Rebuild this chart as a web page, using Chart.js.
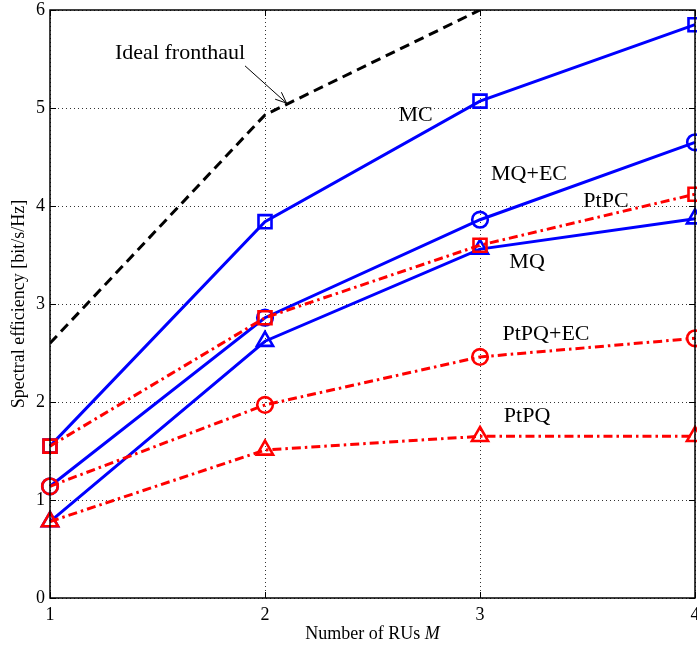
<!DOCTYPE html>
<html>
<head>
<meta charset="utf-8">
<script src="https://cdn.jsdelivr.net/npm/chart.js@4.4.1/dist/chart.umd.min.js"></script>
<style>
  html, body { margin: 0; padding: 0; background: #fff; }
  #wrap { width: 697px; height: 645px; }
</style>
</head>
<body>
<div id="wrap"><canvas id="chart" width="697" height="645"></canvas></div>
<script>
// Number of RUs M
const rus = [1, 2, 3, 4];

// Spectral efficiency [bit/s/Hz]
const idealFronthaul = [2.6, 4.93, 6.0];
const mc = [1.55, 3.84, 5.07, 5.85];
const mqEc = [1.14, 2.86, 3.86, 4.65];
const mq = [0.78, 2.62, 3.56, 3.87];
const ptpc = [1.55, 2.86, 3.6, 4.12];
const ptpqEc = [1.14, 1.97, 2.46, 2.65];
const ptpq = [0.78, 1.51, 1.65, 1.65];

const yTicks = [0, 1, 2, 3, 4, 5, 6];

// curve labels, in data coordinates
const labels = [
  { text: 'Ideal fronthaul', x: 1.605, y: 5.56 },
  { text: 'MC', x: 2.7, y: 4.93 },
  { text: 'MQ+EC', x: 3.228, y: 4.32 },
  { text: 'PtPC', x: 3.586, y: 4.05 },
  { text: 'MQ', x: 3.219, y: 3.43 },
  { text: 'PtPQ+EC', x: 3.307, y: 2.69 },
  { text: 'PtPQ', x: 3.219, y: 1.86 }
];
const arrowFrom = { x: 1.907, y: 5.43 };
const arrowTo = { x: 2.1, y: 5.05 };

const serif = '"Liberation Serif", "Times New Roman", serif';
const BLUE = '#0000ff', RED = '#ff0000';
const dashDot = [9, 4, 2.5, 4];

function pts(vals) {
  return vals.map((v, i) => ({ x: rus[i], y: v }));
}

function series(data, color, style, radius, dash, order, clip) {
  return {
    data: pts(data),
    borderColor: color,
    borderWidth: 3,
    borderDash: dash,
    pointStyle: style,
    pointRadius: radius,
    pointBorderColor: color,
    pointBorderWidth: 2.6,
    pointBackgroundColor: 'rgba(0,0,0,0)',
    pointHoverRadius: radius,
    tension: 0,
    order: order,
    clip: clip
  };
}

const overlay = {
  id: 'overlay',
  beforeDatasetsDraw(chart) {
    const { ctx, chartArea: a, scales: { x, y } } = chart;
    ctx.save();
    ctx.strokeStyle = '#333';
    ctx.lineWidth = 1;
    ctx.setLineDash([1, 3]);
    rus.forEach(v => {
      const px = Math.round(x.getPixelForValue(v)) + 0.5;
      ctx.beginPath(); ctx.moveTo(px, a.top); ctx.lineTo(px, a.bottom); ctx.stroke();
    });
    yTicks.forEach(v => {
      const py = Math.round(y.getPixelForValue(v)) + 0.5;
      ctx.beginPath(); ctx.moveTo(a.left, py); ctx.lineTo(a.right, py); ctx.stroke();
    });
    ctx.restore();
  },
  afterDraw(chart) {
    const { ctx, chartArea: a, scales: { x, y } } = chart;
    ctx.save();
    // box and inward ticks
    ctx.strokeStyle = '#000';
    ctx.lineWidth = 1.5;
    ctx.setLineDash([]);
    ctx.strokeRect(a.left, a.top, a.right - a.left, a.bottom - a.top);
    ctx.lineWidth = 1;
    rus.forEach(v => {
      const px = Math.round(x.getPixelForValue(v)) + 0.5;
      ctx.beginPath();
      ctx.moveTo(px, a.bottom); ctx.lineTo(px, a.bottom - 6);
      ctx.moveTo(px, a.top); ctx.lineTo(px, a.top + 6);
      ctx.stroke();
    });
    yTicks.forEach(v => {
      const py = Math.round(y.getPixelForValue(v)) + 0.5;
      ctx.beginPath();
      ctx.moveTo(a.left, py); ctx.lineTo(a.left + 6, py);
      ctx.moveTo(a.right, py); ctx.lineTo(a.right - 6, py);
      ctx.stroke();
    });

    // curve labels
    ctx.fillStyle = '#000';
    ctx.font = '22px ' + serif;
    ctx.textAlign = 'center';
    ctx.textBaseline = 'middle';
    labels.forEach(l => {
      ctx.fillText(l.text, x.getPixelForValue(l.x), y.getPixelForValue(l.y));
    });

    // arrow to the ideal fronthaul curve
    const x0 = x.getPixelForValue(arrowFrom.x), y0 = y.getPixelForValue(arrowFrom.y);
    const x1 = x.getPixelForValue(arrowTo.x), y1 = y.getPixelForValue(arrowTo.y);
    ctx.lineWidth = 1;
    ctx.beginPath(); ctx.moveTo(x0, y0); ctx.lineTo(x1, y1); ctx.stroke();
    const ang = Math.atan2(y1 - y0, x1 - x0);
    ctx.beginPath();
    ctx.moveTo(x1 - 12 * Math.cos(ang - 0.4), y1 - 12 * Math.sin(ang - 0.4));
    ctx.lineTo(x1, y1);
    ctx.lineTo(x1 - 12 * Math.cos(ang + 0.4), y1 - 12 * Math.sin(ang + 0.4));
    ctx.stroke();

    // axis titles
    ctx.font = '18px ' + serif;
    ctx.textBaseline = 'alphabetic';
    const t1 = 'Number of RUs ', t2 = 'M';
    const w1 = ctx.measureText(t1).width;
    ctx.font = 'italic 18px ' + serif;
    const w2 = ctx.measureText(t2).width;
    const sx = (a.left + a.right) / 2 - (w1 + w2) / 2;
    ctx.textAlign = 'left';
    ctx.font = '18px ' + serif;
    ctx.fillText(t1, sx, 639);
    ctx.font = 'italic 18px ' + serif;
    ctx.fillText(t2, sx + w1, 639);

    ctx.font = '18px ' + serif;
    ctx.textAlign = 'center';
    ctx.translate(24, (a.top + a.bottom) / 2);
    ctx.rotate(-Math.PI / 2);
    ctx.fillText('Spectral efficiency [bit/s/Hz]', 0, 0);
    ctx.restore();
  }
};

new Chart(document.getElementById('chart'), {
  type: 'line',
  data: {
    datasets: [
      series(idealFronthaul, '#000', false, 0, [10, 6], 3, true),
      series(ptpc, RED, 'rect', 9.2, dashDot, 0, false),
      series(ptpqEc, RED, 'circle', 7.8, dashDot, 0, false),
      series(ptpq, RED, 'triangle', 9.3, dashDot, 0, false),
      series(mc, BLUE, 'rect', 9.2, [], 1, false),
      series(mqEc, BLUE, 'circle', 7.8, [], 1, false),
      series(mq, BLUE, 'triangle', 9.3, [], 1, false)
    ]
  },
  options: {
    responsive: false,
    animation: false,
    events: [],
    layout: { autoPadding: false, padding: { top: 10, right: 2, left: 0, bottom: 0 } },
    plugins: { legend: { display: false }, tooltip: { enabled: false } },
    scales: {
      x: {
        type: 'linear',
        min: 1, max: 4,
        grid: { display: false, drawTicks: false },
        border: { display: false },
        ticks: { stepSize: 1, padding: 6, color: '#000', font: { family: serif, size: 18 } },
        afterFit(s) { s.height = 47; s.paddingLeft = 0; s.paddingRight = 0; }
      },
      y: {
        min: 0, max: 6,
        grid: { display: false, drawTicks: false },
        border: { display: false },
        ticks: { stepSize: 1, padding: 5, color: '#000', font: { family: serif, size: 18 } },
        afterFit(s) { s.width = 50; s.paddingTop = 0; s.paddingBottom = 0; }
      }
    }
  },
  plugins: [overlay]
});
</script>
</body>
</html>
